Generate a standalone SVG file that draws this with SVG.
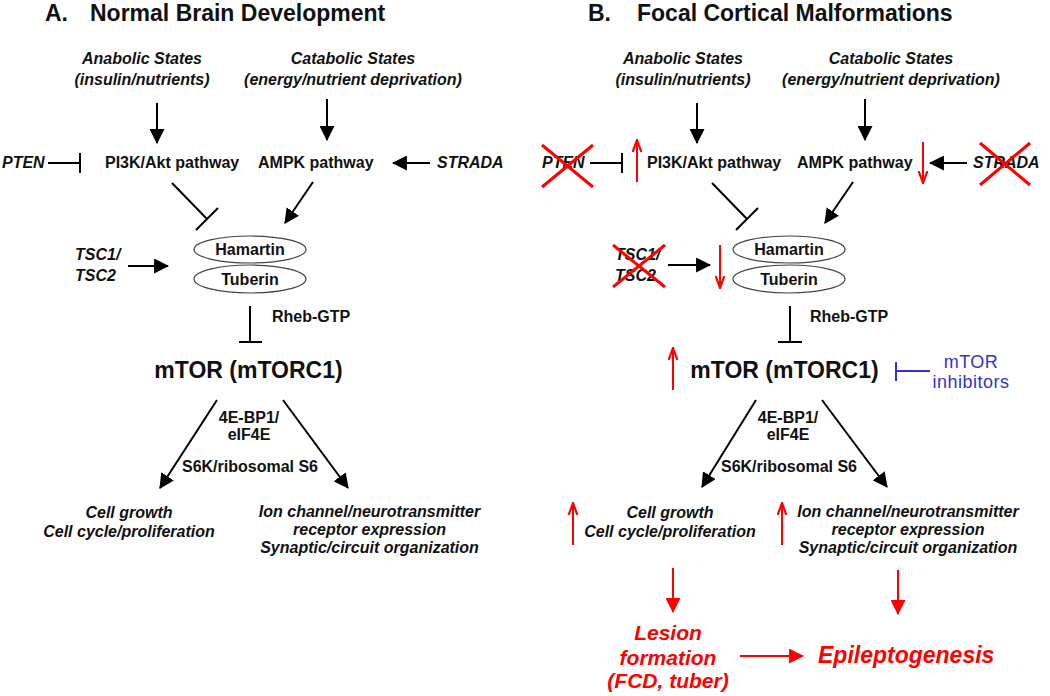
<svg xmlns="http://www.w3.org/2000/svg" width="1050" height="696" viewBox="0 0 1050 696">
<defs>
<marker id="ab" viewBox="0 0 14 14" refX="13" refY="7" markerWidth="15" markerHeight="15" markerUnits="userSpaceOnUse" orient="auto"><path d="M0,0 L14,7 L0,14 Z" fill="#000"/></marker>
<marker id="ar" viewBox="0 0 14 14" refX="13" refY="7" markerWidth="15" markerHeight="15" markerUnits="userSpaceOnUse" orient="auto"><path d="M0,0 L14,7 L0,14 Z" fill="#ff0000"/></marker>
<marker id="at" viewBox="0 0 12 10" refX="11" refY="5" markerWidth="13" markerHeight="11" markerUnits="userSpaceOnUse" orient="auto"><path d="M0,1 L11,5 L0,9" fill="none" stroke="#ff0000" stroke-width="2"/></marker>
<style>
text{font-family:"Liberation Sans",Arial,sans-serif;fill:#111}
.t{font-size:23px;font-weight:bold}
.i{font-size:16px;font-weight:bold;font-style:italic}
.b{font-size:16px;font-weight:bold}
.m{font-size:23px;font-weight:bold}
.c{text-anchor:middle}
.rt{fill:#ff0000;font-weight:bold;font-style:italic}
.bl{fill:#3333cc;font-size:18px;letter-spacing:0.5px}
.k{stroke:#000;stroke-width:2;fill:none}
.kr{stroke:#ff0000;stroke-width:2;fill:none}
.x{stroke:#ff0000;stroke-width:3}
.e{fill:#fff;stroke:#444;stroke-width:1.2}
</style>
</defs>

<g id="titles">
<text class="t" x="45" y="21">A.</text><text class="t" x="90" y="21">Normal Brain Development</text>
<text class="t" x="588" y="21">B.</text><text class="t" x="637" y="21">Focal Cortical Malformations</text>
</g>

<!-- Panel A nodes -->
<g id="A-anabolic"><text class="i c" x="142" y="64">Anabolic States</text><text class="i c" x="142" y="85">(insulin/nutrients)</text></g>
<g id="A-catabolic"><text class="i c" x="353" y="64">Catabolic States</text><text class="i c" x="353" y="85">(energy/nutrient deprivation)</text></g>
<g id="A-pten"><text class="i" x="2" y="168">PTEN</text></g>
<g id="A-pi3k"><text class="b" x="105" y="168">PI3K/Akt pathway</text></g>
<g id="A-ampk"><text class="b" x="258" y="168">AMPK pathway</text></g>
<g id="A-strada"><text class="i" x="437" y="168">STRADA</text></g>
<g id="A-tsc"><text class="i" x="75" y="260">TSC1/</text><text class="i" x="75" y="281">TSC2</text></g>
<g id="A-hamartin"><ellipse class="e" cx="250" cy="249.5" rx="56" ry="13.5"/><text class="b c" x="250" y="255">Hamartin</text></g>
<g id="A-tuberin"><ellipse class="e" cx="250" cy="279" rx="56" ry="14"/><text class="b c" x="250" y="285">Tuberin</text></g>
<g id="A-rheb"><text class="b" x="272" y="322">Rheb-GTP</text></g>
<g id="A-mtor"><text class="m c" x="248.5" y="378">mTOR (mTORC1)</text></g>
<g id="A-effectors"><text class="b c" x="249" y="423">4E-BP1/</text><text class="b c" x="249" y="440">eIF4E</text><text class="b c" x="250" y="472">S6K/ribosomal S6</text></g>
<g id="A-growth"><text class="i c" x="129" y="518">Cell growth</text><text class="i c" x="129" y="537">Cell cycle/proliferation</text></g>
<g id="A-ion"><text class="i c" x="369.5" y="517">Ion channel/neurotransmitter</text><text class="i c" x="369.5" y="535">receptor expression</text><text class="i c" x="369.5" y="553">Synaptic/circuit organization</text></g>

<!-- Panel B nodes -->
<g id="B-anabolic"><text class="i c" x="683" y="64">Anabolic States</text><text class="i c" x="683" y="85">(insulin/nutrients)</text></g>
<g id="B-catabolic"><text class="i c" x="891" y="64">Catabolic States</text><text class="i c" x="891" y="85">(energy/nutrient deprivation)</text></g>
<g id="B-pten"><text class="i" x="542" y="168">PTEN</text><line class="x" x1="542" y1="145" x2="593" y2="187"/><line class="x" x1="593" y1="145" x2="542" y2="187"/></g>
<g id="B-pi3k"><text class="b" x="647" y="168">PI3K/Akt pathway</text></g>
<g id="B-ampk"><text class="b" x="797" y="168">AMPK pathway</text></g>
<g id="B-strada"><text class="i" x="973" y="168">STRADA</text><line class="x" x1="980" y1="143" x2="1030" y2="185"/><line class="x" x1="1030" y1="143" x2="980" y2="185"/></g>
<g id="B-tsc"><text class="i" x="615" y="260">TSC1/</text><text class="i" x="615" y="281">TSC2</text><line class="x" x1="613" y1="245" x2="665" y2="287"/><line class="x" x1="665" y1="245" x2="613" y2="287"/></g>
<g id="B-hamartin"><ellipse class="e" cx="789" cy="249.5" rx="56" ry="13.5"/><text class="b c" x="789" y="255">Hamartin</text></g>
<g id="B-tuberin"><ellipse class="e" cx="789" cy="279" rx="56" ry="14"/><text class="b c" x="789" y="285">Tuberin</text></g>
<g id="B-rheb"><text class="b" x="810" y="322">Rheb-GTP</text></g>
<g id="B-mtor"><text class="m c" x="784.5" y="378">mTOR (mTORC1)</text></g>
<g id="B-inhibitors"><text class="bl c" x="971" y="368">mTOR</text><text class="bl c" x="971" y="388">inhibitors</text></g>
<g id="B-effectors"><text class="b c" x="788" y="423">4E-BP1/</text><text class="b c" x="788" y="440">eIF4E</text><text class="b c" x="789" y="472">S6K/ribosomal S6</text></g>
<g id="B-growth"><text class="i c" x="670" y="518">Cell growth</text><text class="i c" x="670" y="537">Cell cycle/proliferation</text></g>
<g id="B-ion"><text class="i c" x="908" y="517">Ion channel/neurotransmitter</text><text class="i c" x="908" y="535">receptor expression</text><text class="i c" x="908" y="553">Synaptic/circuit organization</text></g>
<g id="B-lesion"><text class="rt c" style="font-size:21px" x="668" y="640">Lesion</text><text class="rt c" style="font-size:21px" x="668" y="665">formation</text><text class="rt c" style="font-size:21px" x="668" y="688">(FCD, tuber)</text></g>
<g id="B-epi"><text class="rt" style="font-size:23px" x="818" y="663">Epileptogenesis</text></g>

<g id="connectors">
<!-- A -->
<line class="k" x1="157" y1="103" x2="157" y2="143" marker-end="url(#ab)"/>
<line class="k" x1="327" y1="99" x2="327" y2="140" marker-end="url(#ab)"/>
<path class="k" d="M48,163 H80 M80,153 V173"/>
<line class="k" x1="430" y1="163" x2="393" y2="163" marker-end="url(#ab)"/>
<path class="k" d="M172,183 L207,219 M196,230 L218,208"/>
<line class="k" x1="313" y1="182" x2="285" y2="223" marker-end="url(#ab)"/>
<line class="k" x1="128" y1="266" x2="168" y2="266" marker-end="url(#ab)"/>
<path class="k" d="M250,306 V342 M239,342 H262"/>
<line class="k" x1="217" y1="400" x2="160" y2="488" marker-end="url(#ab)"/>
<line class="k" x1="283" y1="400" x2="348" y2="488" marker-end="url(#ab)"/>
<!-- B -->
<line class="k" x1="697" y1="103" x2="697" y2="143" marker-end="url(#ab)"/>
<line class="k" x1="865" y1="99" x2="865" y2="140" marker-end="url(#ab)"/>
<path class="k" d="M590,163 H622 M622,153 V173"/>
<line class="k" x1="967" y1="163" x2="930" y2="163" marker-end="url(#ab)"/>
<path class="k" d="M712,183 L747,219 M736,230 L758,208"/>
<line class="k" x1="853" y1="182" x2="825" y2="223" marker-end="url(#ab)"/>
<line class="k" x1="668" y1="265" x2="710" y2="265" marker-end="url(#ab)"/>
<path class="k" d="M790,306 V342 M778,342 H802"/>
<line class="k" x1="756" y1="400" x2="702" y2="487" marker-end="url(#ab)"/>
<line class="k" x1="822" y1="400" x2="887" y2="487" marker-end="url(#ab)"/>
<path d="M930,371 H896 M896,362 V381" stroke="#3333cc" stroke-width="2" fill="none"/>
<!-- red indicators -->
<line class="kr" x1="637" y1="182" x2="637" y2="140" marker-end="url(#at)"/>
<line class="kr" x1="923" y1="142" x2="923" y2="183" marker-end="url(#at)"/>
<line class="kr" x1="720" y1="245" x2="720" y2="288" marker-end="url(#at)"/>
<line class="kr" x1="673" y1="390" x2="673" y2="348" marker-end="url(#at)"/>
<line class="kr" x1="573" y1="545" x2="573" y2="503" marker-end="url(#at)"/>
<line class="kr" x1="782" y1="545" x2="782" y2="503" marker-end="url(#at)"/>
<line class="kr" x1="673" y1="568" x2="673" y2="612" marker-end="url(#ar)"/>
<line class="kr" x1="898" y1="570" x2="898" y2="614" marker-end="url(#ar)"/>
<line class="kr" x1="740" y1="656" x2="803" y2="656" marker-end="url(#ar)"/>
</g>
</svg>
